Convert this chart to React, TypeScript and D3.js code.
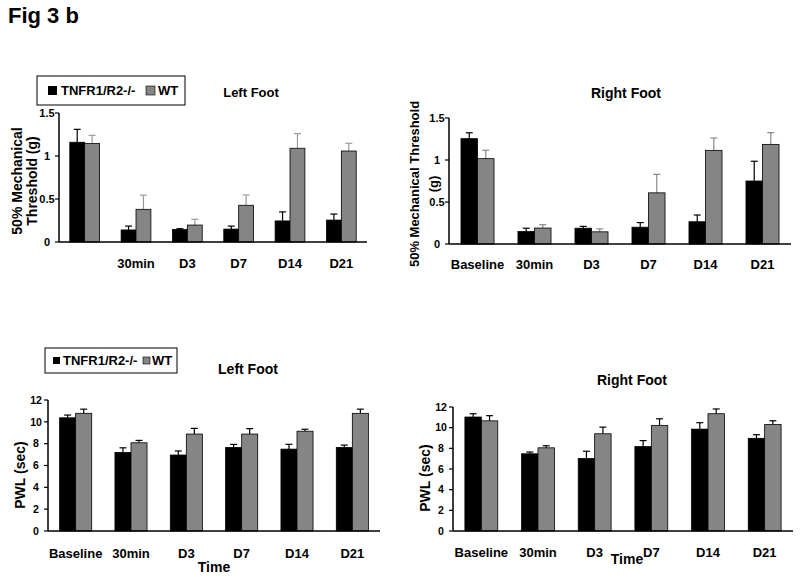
import React from "react";
import * as d3 from "d3";

// ---- data ----
const categories = ["Baseline", "30min", "D3", "D7", "D14", "D21"];
const topLeftLabels = ["", "30min", "D3", "D7", "D14", "D21"];
const seriesNames = ["TNFR1/R2-/-", "WT"];

// Top-left: Left Foot, 50% mechanical threshold (g)
const mechLeftKO = [1.16, 0.14, 0.145, 0.15, 0.245, 0.255];
const mechLeftKOErr = [0.15, 0.045, 0.01, 0.035, 0.105, 0.07];
const mechLeftWT = [1.145, 0.38, 0.197, 0.427, 1.09, 1.058];
const mechLeftWTErr = [0.095, 0.165, 0.067, 0.12, 0.17, 0.09];

// Top-right: Right Foot
const mechRightKO = [1.254, 0.148, 0.188, 0.2, 0.265, 0.75];
const mechRightKOErr = [0.07, 0.04, 0.022, 0.055, 0.08, 0.235];
const mechRightWT = [1.016, 0.19, 0.145, 0.609, 1.115, 1.186];
const mechRightWTErr = [0.1, 0.04, 0.035, 0.22, 0.146, 0.14];
const mechTicks = [0, 0.5, 1, 1.5];

// Bottom-left: Left Foot PWL (sec)
const pwlLeftKO = [10.37, 7.2, 6.96, 7.65, 7.5, 7.65];
const pwlLeftKOErr = [0.25, 0.42, 0.37, 0.28, 0.44, 0.22];
const pwlLeftWT = [10.78, 8.08, 8.88, 8.88, 9.14, 10.78];
const pwlLeftWTErr = [0.38, 0.22, 0.52, 0.5, 0.18, 0.38];

// Bottom-right: Right Foot PWL (sec)
const pwlRightKO = [11.03, 7.47, 7.02, 8.17, 9.86, 8.97];
const pwlRightKOErr = [0.32, 0.17, 0.7, 0.58, 0.62, 0.35];
const pwlRightWT = [10.66, 8.05, 9.41, 10.2, 11.35, 10.3];
const pwlRightWTErr = [0.5, 0.2, 0.64, 0.66, 0.46, 0.37];
const pwlTicks = [0, 2, 4, 6, 8, 10, 12];

const FONT = "'Liberation Sans', Arial, Helvetica, sans-serif";
const KO_COLOR = "#000000";
const WT_COLOR = "#858585";

type PanelProps = {
  x0: number; x1: number; yTop: number; yBottom: number;
  max: number; ticks: number[];
  labels: string[];
  ko: number[]; koErr: number[]; wt: number[]; wtErr: number[];
  wtErrColor: string;
  labelY: number;
  tickFont: number;
};

function Panel(p: PanelProps) {
  const x = d3.scaleBand<string>().domain(categories).range([p.x0, p.x1])
    .paddingInner(0.42).paddingOuter(0.21);
  const inner = d3.scaleBand<string>().domain(["ko", "wt"]).range([0, x.bandwidth()]);
  const y = d3.scaleLinear().domain([0, p.max]).range([p.yBottom, p.yTop]);
  const cap = 3.5;
  const bars: any[] = [];
  categories.forEach((c, i) => {
    const groups = [
      { k: "ko", v: p.ko[i], e: p.koErr[i], fill: KO_COLOR, ec: "#000" },
      { k: "wt", v: p.wt[i], e: p.wtErr[i], fill: WT_COLOR, ec: p.wtErrColor },
    ];
    groups.forEach((g) => {
      const bx = (x(c) as number) + (inner(g.k) as number);
      const bw = inner.bandwidth();
      const cx = bx + bw / 2;
      bars.push(
        <g key={c + g.k}>
          <line x1={cx} x2={cx} y1={y(g.v)} y2={y(g.v + g.e)} stroke={g.ec} strokeWidth={1.2} />
          <line x1={cx - cap} x2={cx + cap} y1={y(g.v + g.e)} y2={y(g.v + g.e)} stroke={g.ec} strokeWidth={1.2} />
          <rect x={bx} y={y(g.v)} width={bw} height={p.yBottom - y(g.v)} fill={g.fill}
            stroke="#000" strokeWidth={0.8} />
        </g>
      );
    });
  });
  return (
    <g>
      {bars}
      <line x1={p.x0} x2={p.x0} y1={p.yTop} y2={p.yBottom} stroke="#000" strokeWidth={1.5} />
      <line x1={p.x0} x2={p.x1} y1={p.yBottom} y2={p.yBottom} stroke="#000" strokeWidth={1.5} />
      {p.ticks.map((t) => (
        <g key={t}>
          <line x1={p.x0 - 4} x2={p.x0} y1={y(t)} y2={y(t)} stroke="#000" strokeWidth={1.2} />
          <text x={p.x0 - 12} y={y(t)} dy="0.35em" textAnchor="middle" fontSize={p.tickFont}
            fontWeight="bold" fontFamily={FONT}>{String(t)}</text>
        </g>
      ))}
      {categories.map((c, i) => (
        <text key={c} x={(x(c) as number) + x.bandwidth() / 2} y={p.labelY} dy="0.35em"
          textAnchor="middle" fontSize={13} fontWeight="bold" fontFamily={FONT}>{p.labels[i]}</text>
      ))}
    </g>
  );
}

type LegendProps = {
  x: number; y: number; w: number; h: number; fs: number; sq: number;
  sq1: number; t1: number; sq2: number; t2: number;
};

function Legend({ x, y, w, h, fs, sq, sq1, t1, sq2, t2 }: LegendProps) {
  const cy = y + h / 2;
  return (
    <g fontFamily={FONT} fontWeight="bold" fontSize={fs}>
      <rect x={x} y={y} width={w} height={h} fill="#fff" stroke="#000" strokeWidth={1} />
      <rect x={sq1} y={cy - sq / 2} width={sq} height={sq} fill={KO_COLOR} />
      <text x={t1} y={cy} dy="0.35em">{seriesNames[0]}</text>
      <rect x={sq2} y={cy - sq / 2} width={sq} height={sq} fill={WT_COLOR} stroke="#000" strokeWidth={0.6} />
      <text x={t2} y={cy} dy="0.35em">{seriesNames[1]}</text>
    </g>
  );
}

export default function App() {
  return (
    <svg width={800} height={579} style={{ position: "absolute", left: 0, top: 0, background: "#fff" }}>
      <rect x={0} y={0} width={800} height={579} fill="#fff" />
      <text x={8} y={23} fontSize={22} fontWeight="bold" fontFamily={FONT}>Fig 3 b</text>

      {/* Top-left */}
      <Legend x={37} y={76} w={148} h={29} fs={13} sq={9} sq1={48} t1={61} sq2={146} t2={158} />
      <text x={251} y={92} dy="0.35em" textAnchor="middle" fontSize={13} fontWeight="bold" fontFamily={FONT}>Left Foot</text>
      <g fontFamily={FONT} fontWeight="bold" fontSize={14}>
        <text transform="translate(17,181) rotate(-90)" dy="0.35em" textAnchor="middle">50% Mechanical</text>
        <text transform="translate(32,181) rotate(-90)" dy="0.35em" textAnchor="middle">Threshold (g)</text>
      </g>
      <Panel x0={59} x1={367} yTop={113} yBottom={242} max={1.5} ticks={mechTicks}
        labels={topLeftLabels} ko={mechLeftKO} koErr={mechLeftKOErr} wt={mechLeftWT} wtErr={mechLeftWTErr}
        wtErrColor="#9a9a9a" labelY={263} tickFont={11} />

      {/* Top-right */}
      <text x={626} y={93} dy="0.35em" textAnchor="middle" fontSize={14} fontWeight="bold" fontFamily={FONT}>Right Foot</text>
      <g fontFamily={FONT} fontWeight="bold" fontSize={13}>
        <text transform="translate(414,184) rotate(-90)" dy="0.35em" textAnchor="middle">50% Mechanical Threshold</text>
        <text transform="translate(433,184) rotate(-90)" dy="0.35em" textAnchor="middle">(g)</text>
      </g>
      <Panel x0={449} x1={791} yTop={118} yBottom={244} max={1.5} ticks={mechTicks}
        labels={categories} ko={mechRightKO} koErr={mechRightKOErr} wt={mechRightWT} wtErr={mechRightWTErr}
        wtErrColor="#8a8a8a" labelY={264} tickFont={11} />

      {/* Bottom-left */}
      <Legend x={45} y={348} w={132} h={25} fs={13} sq={7} sq1={53} t1={63} sq2={143} t2={152} />
      <text x={248} y={369} dy="0.35em" textAnchor="middle" fontSize={14} fontWeight="bold" fontFamily={FONT}>Left Foot</text>
      <text transform="translate(20,475) rotate(-90)" dy="0.35em" textAnchor="middle" fontSize={14}
        fontWeight="bold" fontFamily={FONT}>PWL (sec)</text>
      <Panel x0={48} x1={380} yTop={400} yBottom={531} max={12} ticks={pwlTicks}
        labels={categories} ko={pwlLeftKO} koErr={pwlLeftKOErr} wt={pwlLeftWT} wtErr={pwlLeftWTErr}
        wtErrColor="#000" labelY={553} tickFont={10.5} />
      <text x={214} y={567} dy="0.35em" textAnchor="middle" fontSize={14} fontWeight="bold" fontFamily={FONT}>Time</text>

      {/* Bottom-right */}
      <text x={632} y={380} dy="0.35em" textAnchor="middle" fontSize={14} fontWeight="bold" fontFamily={FONT}>Right Foot</text>
      <text transform="translate(425,478) rotate(-90)" dy="0.35em" textAnchor="middle" fontSize={14}
        fontWeight="bold" fontFamily={FONT}>PWL (sec)</text>
      <Panel x0={453} x1={793} yTop={407} yBottom={531} max={12} ticks={pwlTicks}
        labels={categories} ko={pwlRightKO} koErr={pwlRightKOErr} wt={pwlRightWT} wtErr={pwlRightWTErr}
        wtErrColor="#000" labelY={552} tickFont={10.5} />
      <text x={627} y={559} dy="0.35em" textAnchor="middle" fontSize={14} fontWeight="bold" fontFamily={FONT}>Time</text>
    </svg>
  );
}
